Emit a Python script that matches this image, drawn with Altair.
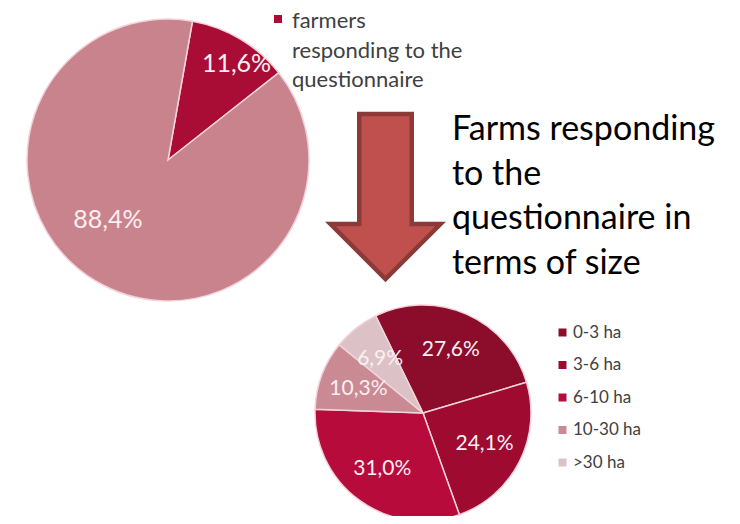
import math
import altair as alt
import pandas as pd

# ---- data ----
resp_cats = ["farmers responding to the questionnaire", "other farmers"]
resp_vals = [11.6, 88.4]
resp_labels = ["11,6%", "88,4%"]
resp_colors = ["#A90D35", "#C9838D"]

size_cats = ["0-3 ha", "3-6 ha", "6-10 ha", "10-30 ha", ">30 ha"]
size_vals = [27.6, 24.1, 31.0, 10.3, 6.9]
size_labels = ["27,6%", "24,1%", "31,0%", "10,3%", "6,9%"]
size_colors = ["#8C0C2B", "#9E0A30", "#B60B3B", "#C98A93", "#DCC2C6"]

legend_text = "farmers\nresponding to the\nquestionnaire"
title_text = "Farms responding\nto the\nquestionnaire in\nterms of size"

FONT = "Lato"
DEG = math.pi / 180
LABEL_COLOR = "#FBEFF2"
EDGE = "#F3D3DA"

big_df = pd.DataFrame({"cat": resp_cats, "value": resp_vals,
                       "label": resp_labels, "ord": list(range(len(resp_cats)))})
small_df = pd.DataFrame({"cat": size_cats, "value": size_vals,
                         "label": size_labels, "ord": list(range(len(size_cats)))})

# ---- big pie ----
BX, BY, BR = 160, 152, 141
big_theta = alt.Scale(range=[10 * DEG, 370 * DEG])
big_base = alt.Chart(big_df)
big_arc = big_base.mark_arc(outerRadius=BR, stroke=EDGE, strokeWidth=1.5).encode(
    theta=alt.Theta("value:Q", stack=True, scale=big_theta),
    order=alt.Order("ord:O"),
    color=alt.Color("cat:N", scale=alt.Scale(domain=resp_cats, range=resp_colors), legend=None),
    x=alt.value(BX), y=alt.value(BY),
)


def labels(base, scale, cx, cy, radius, size, cat=None, dx=0, dy=0):
    c = base.transform_window(
        cum="sum(value)", sort=[alt.SortField("ord")]
    ).transform_calculate(mid="datum.cum - datum.value / 2")
    if cat is not None:
        c = c.transform_filter(alt.datum.cat == cat)
    return c.mark_text(radius=radius, fontSize=size, font=FONT, color=LABEL_COLOR,
                       dx=dx, dy=dy).encode(
        theta=alt.Theta("mid:Q", scale=scale, stack=None),
        text="label:N",
        x=alt.value(cx), y=alt.value(cy),
    )


big = alt.layer(
    big_arc,
    labels(big_base, big_theta, BX, BY, 116, 25, resp_cats[0], dx=9, dy=4),
    labels(big_base, big_theta, BX, BY, 88, 25, resp_cats[1], dx=-15, dy=-16),
)

# ---- small pie ----
SX, SY, SR = 415, 405, 108
small_theta = alt.Scale(range=[334 * DEG, 694 * DEG])
small_base = alt.Chart(small_df)
small_arc = small_base.mark_arc(outerRadius=SR, stroke=EDGE, strokeWidth=1.5).encode(
    theta=alt.Theta("value:Q", stack=True, scale=small_theta),
    order=alt.Order("ord:O"),
    color=alt.Color(
        "cat:N",
        scale=alt.Scale(domain=size_cats, range=size_colors),
        sort=size_cats,
        legend=alt.Legend(
            orient="none", legendX=546, legendY=316, title=None,
            symbolType="square", symbolSize=64, symbolStrokeWidth=0, symbolOpacity=1,
            labelFontSize=17, labelFont=FONT, labelColor="#404040",
            rowPadding=14.5, labelOffset=2, padding=0,
        ),
    ),
    x=alt.value(SX), y=alt.value(SY),
)
small = alt.layer(small_arc, labels(small_base, small_theta, SX, SY, 69, 21))

# ---- legend of the big pie ----
one = alt.Data(values=[{"t": legend_text}])
big_leg_mark = alt.Chart(one).mark_point(
    shape="square", size=64, filled=True, color=resp_colors[0], opacity=1
).encode(x=alt.value(270), y=alt.value(11))
big_leg_text = alt.Chart(one).mark_text(
    align="left", baseline="top", fontSize=22, font=FONT, lineBreak="\n",
    lineHeight=29.5, color="#404040"
).encode(x=alt.value(284), y=alt.value(3), text="t:N")

# ---- arrow ----
arrow_path = ("M -0.318 -1 L 0.318 -1 L 0.318 0.333 L 0.667 0.333 L 0 1 "
              "L -0.667 0.333 L -0.318 0.333 Z")
arrow = alt.Chart(alt.Data(values=[{"a": 1}])).mark_point(
    shape=arrow_path, size=27225, filled=True, fill="#C0504D", stroke="#8C3A38",
    strokeWidth=4.5, fillOpacity=1, strokeOpacity=1, strokeJoin="miter",
).encode(x=alt.value(377.5), y=alt.value(188.5))

# ---- title text ----
title = alt.Chart(alt.Data(values=[{"t": title_text}])).mark_text(
    align="left", baseline="alphabetic", fontSize=34, font=FONT, lineBreak="\n",
    lineHeight=44.5, color="#000000"
).encode(x=alt.value(444), y=alt.value(132), text="t:N")

chart = alt.layer(big, small, big_leg_mark, big_leg_text, arrow, title).resolve_scale(
    theta="independent", color="independent"
).properties(
    width=724, height=508, padding=0, autosize=alt.AutoSizeParams(type="none"),
    background="white",
).configure_view(stroke=None)

chart.save("out.html", embed_options={"renderer": "svg", "actions": False})
